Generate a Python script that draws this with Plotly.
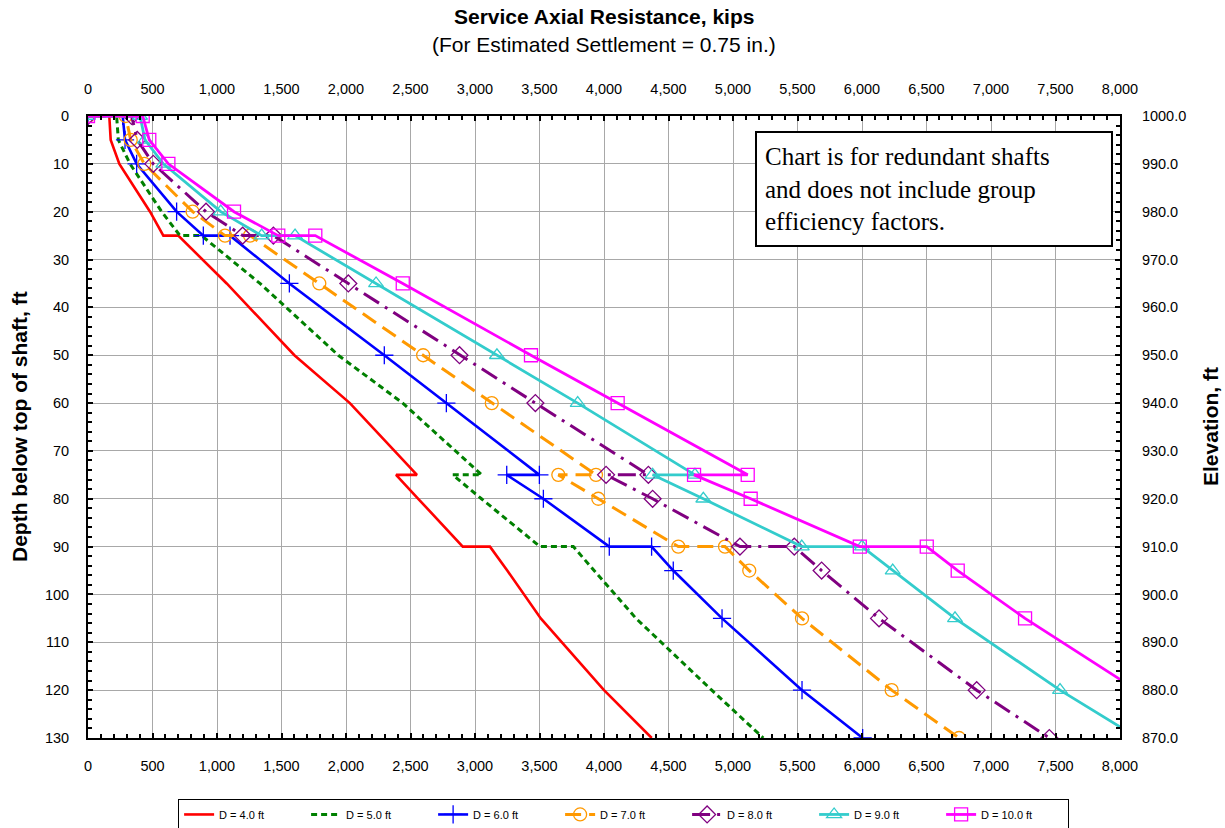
import plotly.graph_objects as go

# ---- data ----
depth_ft = [0, 0, 5, 10, 20, 25, 25, 35, 50, 60, 75, 75, 80, 90, 90, 95, 105, 120, 130]

d4_kips = [0, 165, 176, 243, 481, 584, 700, 1075, 1600, 2030, 2550, 2388, 2560, 2905, 3116, 3250, 3510, 4000, 4370]
d5_kips = [0, 222, 235, 326, 571, 713, 880, 1333, 1940, 2440, 3052, 2827, 3050, 3504, 3762, 3925, 4248, 4835, 5235]
d6_kips = [0, 269, 287, 377, 687, 894, 1101, 1561, 2297, 2778, 3499, 3246, 3530, 4041, 4369, 4537, 4915, 5535, 6005]
d7_kips = [0, 292, 331, 437, 811, 1062, 1256, 1793, 2598, 3130, 3938, 3646, 3956, 4576, 4938, 5126, 5535, 6230, 6752]
d8_kips = [0, 338, 382, 506, 915, 1199, 1437, 2018, 2880, 3468, 4344, 4016, 4377, 5054, 5475, 5687, 6132, 6889, 7452]
d9_kips = [0, 403, 442, 584, 1029, 1346, 1605, 2233, 3170, 3796, 4705, 4377, 4770, 5533, 6000, 6238, 6721, 7535, 8140]
d10_kips = [0, 424, 475, 623, 1132, 1475, 1762, 2440, 3434, 4106, 5114, 4698, 5137, 5983, 6502, 6742, 7264, 8130, 8700]

series_names = ["D = 4.0 ft", "D = 5.0 ft", "D = 6.0 ft", "D = 7.0 ft", "D = 8.0 ft", "D = 9.0 ft", "D = 10.0 ft"]
series_values = [d4_kips, d5_kips, d6_kips, d7_kips, d8_kips, d9_kips, d10_kips]

x_tick_vals = list(range(0, 8001, 500))
x_tick_text = ["{:,}".format(v) for v in x_tick_vals]
y_tick_vals = list(range(0, 131, 10))
elev_tick_vals = list(range(870, 1001, 10))
elev_tick_text = ["{:.1f}".format(v) for v in elev_tick_vals]

# ---- styles ----
styles = [
    dict(color="#FF0000", dash="solid", symbol=None, width=2.6),
    dict(color="#008000", dash="6px,4px", symbol=None, width=3),
    dict(color="#0000FF", dash="solid", symbol="cross-thin", width=2.6),
    dict(color="#FF9900", dash="16px,8px", symbol="circle-open", width=3),
    dict(color="#800080", dash="18px,7px,3px,7px", symbol="diamond-open", width=3),
    dict(color="#33CCCC", dash="solid", symbol="triangle-up-open", width=2.8),
    dict(color="#FF00FF", dash="solid", symbol="square-open", width=2.8),
]

fig = go.Figure()
for name, vals, st in zip(series_names, series_values, styles):
    kw = dict(x=vals, y=depth_ft, name=name, xaxis="x", yaxis="y",
              line=dict(color=st["color"], dash=st["dash"], width=st["width"]))
    if st["symbol"] is None:
        kw["mode"] = "lines"
    else:
        kw["mode"] = "lines+markers"
        kw["marker"] = dict(symbol=st["symbol"], size=13, color=st["color"],
                            line=dict(color=st["color"], width=1.3))
    fig.add_trace(go.Scatter(**kw))

font_sans = "Liberation Sans, Arial, sans-serif"
grid_c = "#A8A8A8"

common_x = dict(range=[0, 8000], tickvals=x_tick_vals, ticktext=x_tick_text,
                showline=True, linecolor="black", linewidth=2, zeroline=False,
                ticks="inside", ticklen=5, tickwidth=1.5, tickcolor="black",
                tickfont=dict(family=font_sans, size=14.5, color="black"),
                ticklabelstandoff=14,
                minor=dict(ticks="inside", dtick=100, ticklen=4, tickcolor="black", showgrid=False))

fig.update_layout(
    width=1225, height=828,
    margin=dict(l=88, r=105, t=116, b=90, autoexpand=False),
    paper_bgcolor="white", plot_bgcolor="white",
    showlegend=True,
    xaxis=dict(side="top", showgrid=True, gridcolor=grid_c, gridwidth=1.2, **common_x),
    xaxis2=dict(side="bottom", overlaying="x", showgrid=False, **common_x),
    yaxis=dict(range=[130, 0], tickvals=y_tick_vals, side="left",
               showline=True, linecolor="black", linewidth=2, zeroline=False,
               showgrid=True, gridcolor=grid_c, gridwidth=1.2,
               ticks="inside", ticklen=5, tickwidth=1.5, tickcolor="black",
               tickfont=dict(family=font_sans, size=14.5, color="black"),
               ticklabelstandoff=14,
               minor=dict(ticks="inside", dtick=2, ticklen=4, tickcolor="black", showgrid=False)),
    yaxis2=dict(range=[870, 1000], tickvals=elev_tick_vals, ticktext=elev_tick_text,
                side="right", overlaying="y",
                showline=True, linecolor="black", linewidth=2, zeroline=False, showgrid=False,
                ticks="inside", ticklen=5, tickwidth=1.5, tickcolor="black",
                tickfont=dict(family=font_sans, size=14.5, color="black"),
                ticklabelstandoff=17,
                minor=dict(ticks="inside", dtick=2, ticklen=4, tickcolor="black", showgrid=False)),
    legend=dict(orientation="h", x=0.519, xanchor="center", y=-0.098, yanchor="top",
                bordercolor="black", borderwidth=1, bgcolor="white",
                font=dict(family=font_sans, size=11, color="black"),
                entrywidth=82, tracegroupgap=0),
)

# dummy traces to activate the secondary axes
fig.add_trace(go.Scatter(x=[None], y=[None], xaxis="x2", yaxis="y", showlegend=False, hoverinfo="skip"))
fig.add_trace(go.Scatter(x=[None], y=[None], xaxis="x", yaxis="y2", showlegend=False, hoverinfo="skip"))


def py(yp):
    return (738 - yp) / 622.0


def px(xp):
    return (xp - 88) / 1032.0


fig.add_annotation(text="<b>Service Axial Resistance, kips</b>", x=0.5, y=py(17), xref="paper", yref="paper",
                   xanchor="center", yanchor="middle",
                   showarrow=False, font=dict(family=font_sans, size=21, color="black"))
fig.add_annotation(text="(For Estimated Settlement = 0.75 in.)", x=0.5, y=py(45), xref="paper", yref="paper",
                   xanchor="center", yanchor="middle",
                   showarrow=False, font=dict(family=font_sans, size=21, color="black"))
fig.add_annotation(text="<b>Depth below top of shaft, ft</b>", x=px(19), y=py(427),
                   xref="paper", yref="paper", textangle=-90, showarrow=False,
                   xanchor="center", yanchor="middle",
                   font=dict(family=font_sans, size=21, color="black"))
fig.add_annotation(text="<b>Elevation, ft</b>", x=px(1210), y=py(427),
                   xref="paper", yref="paper", textangle=-90, showarrow=False,
                   xanchor="center", yanchor="middle",
                   font=dict(family=font_sans, size=21, color="black"))
fig.add_annotation(text="Chart is for redundant shafts<br>and does not include group<br>efficiency factors.",
                   x=px(755), y=py(131), xref="paper", yref="paper",
                   xanchor="left", yanchor="top", align="left", showarrow=False,
                   width=338, height=96, borderpad=8,
                   bordercolor="black", borderwidth=2, bgcolor="white",
                   font=dict(family="Liberation Serif, Times New Roman, serif", size=25, color="black"))

fig.write_html("out.html", post_script="document.body.style.margin='0';",
               config={"displayModeBar": False})
